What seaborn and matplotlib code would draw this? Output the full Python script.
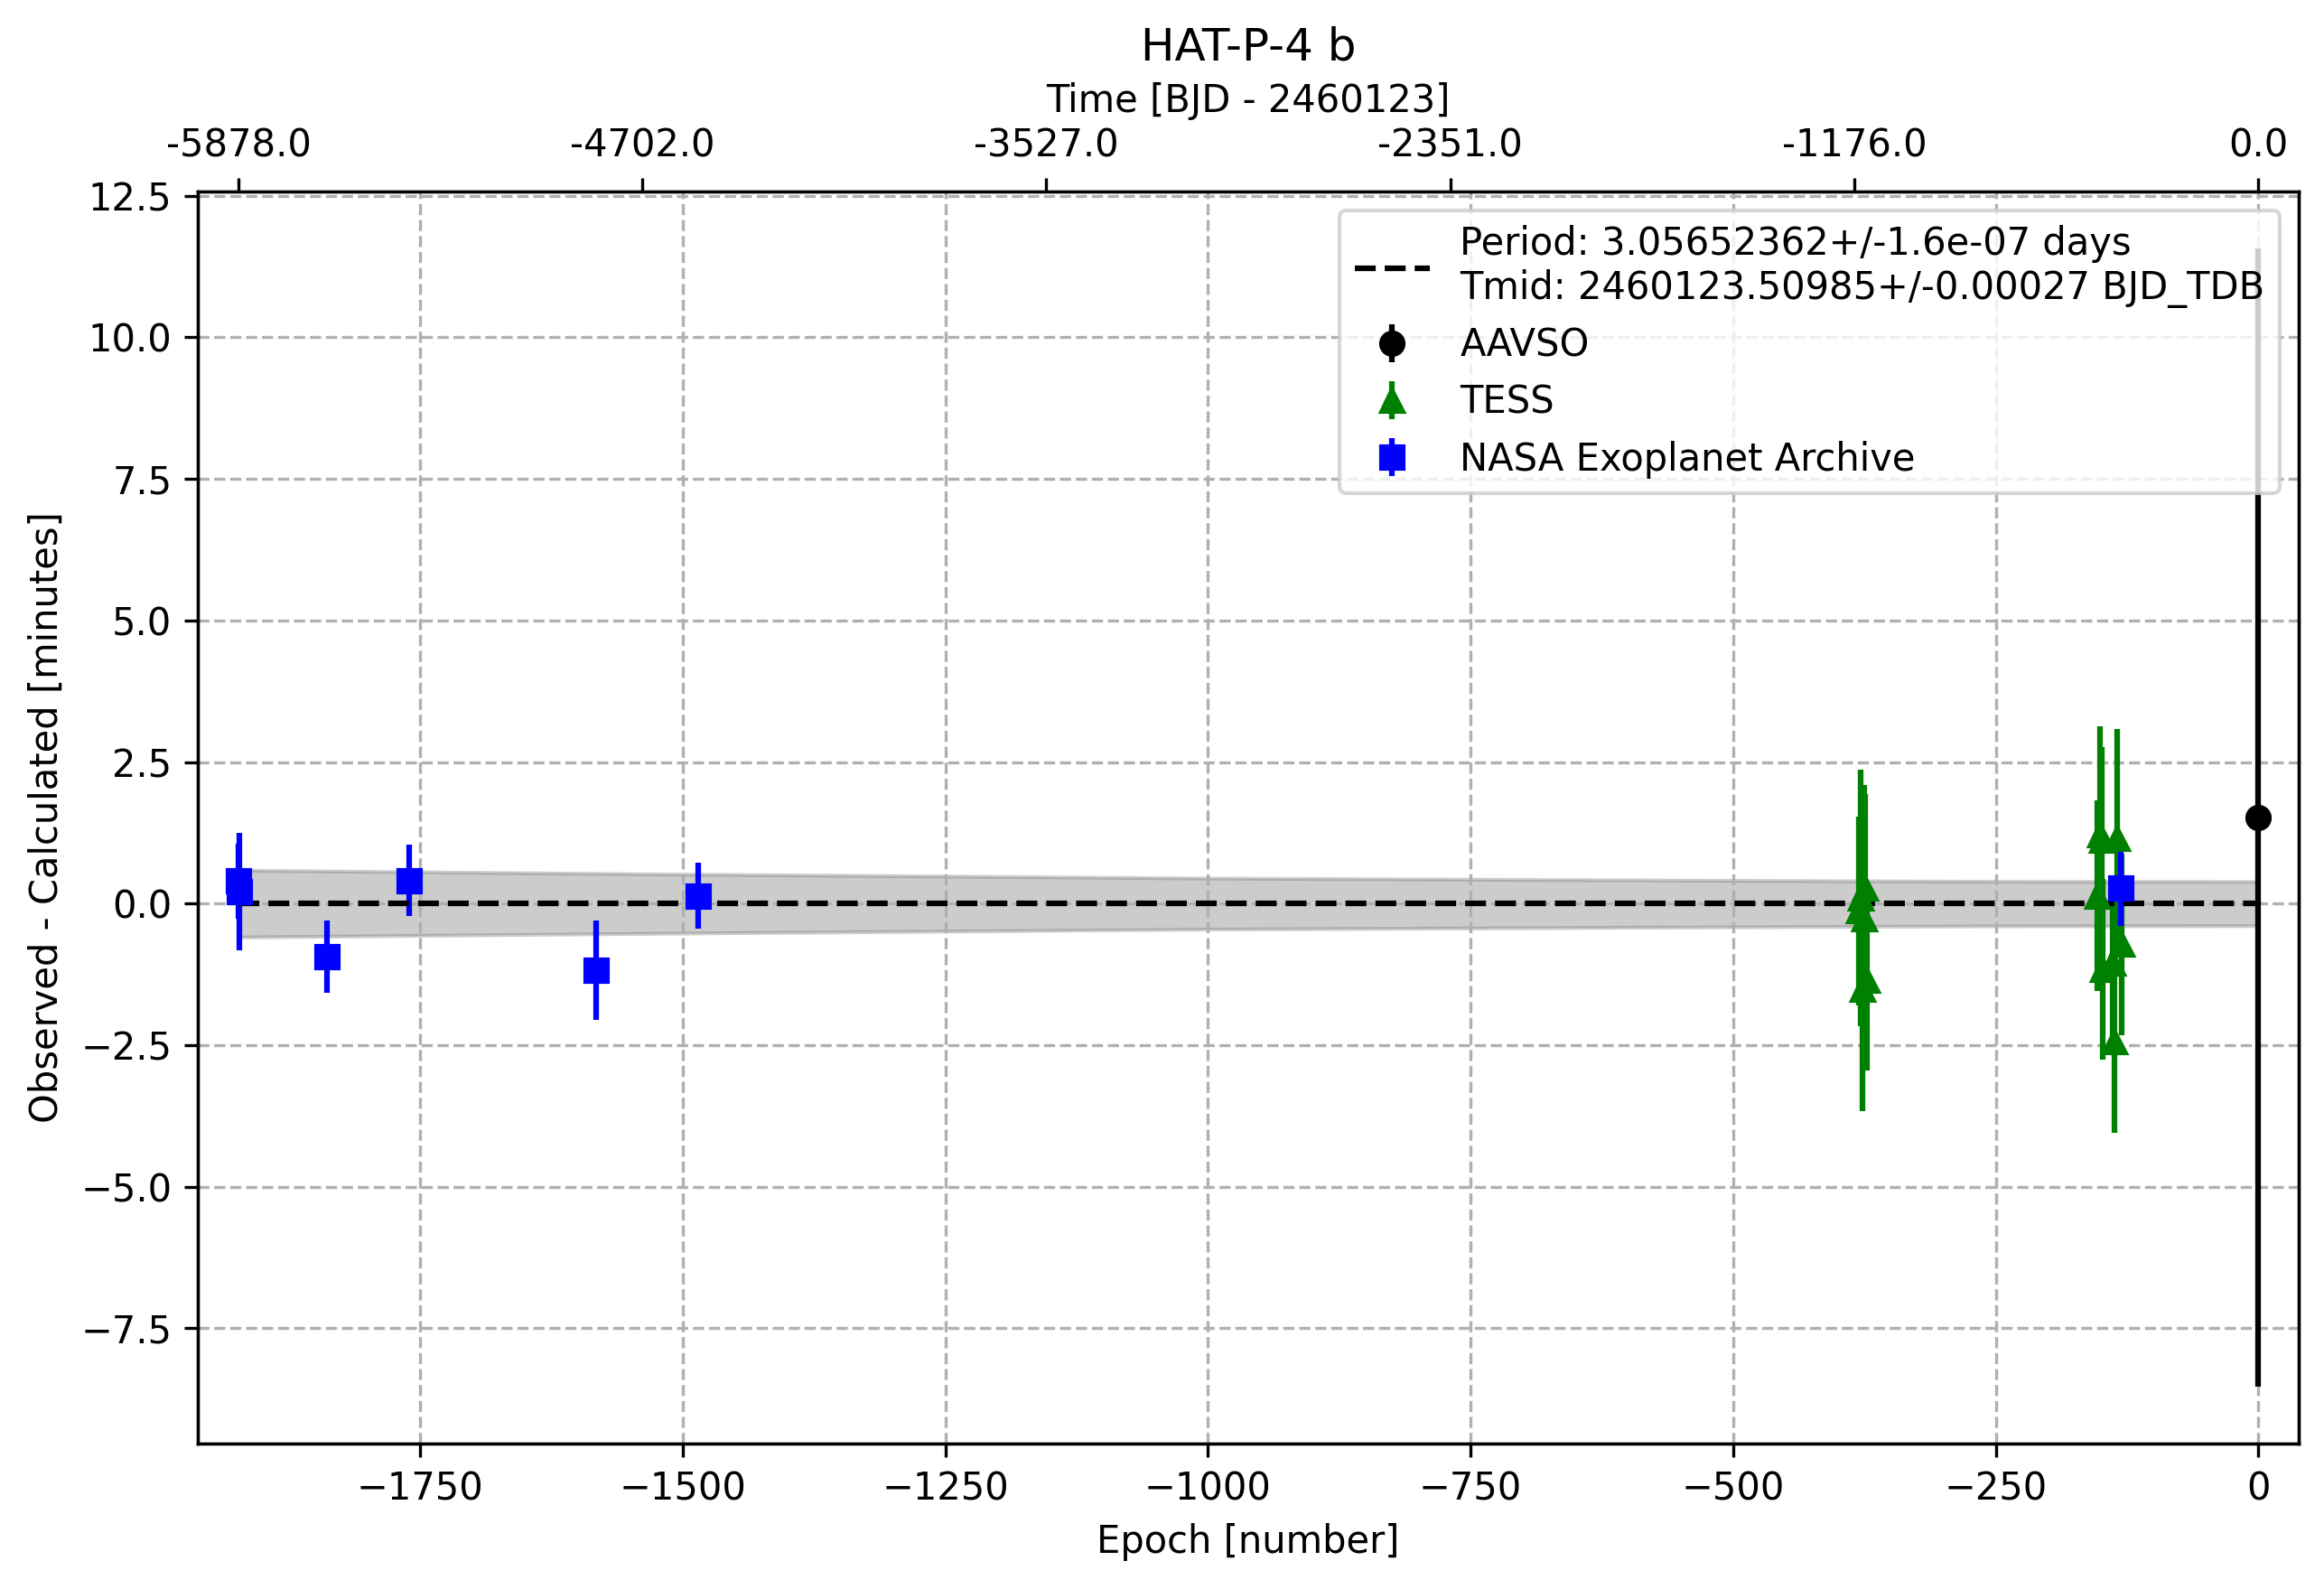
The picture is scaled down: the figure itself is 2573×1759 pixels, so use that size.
import matplotlib
matplotlib.use("Agg")
import matplotlib.pyplot as plt
import seaborn as sns
import numpy as np

# Ephemeris (from the legend)
PERIOD = 3.05652362
PERIOD_ERR = 1.6e-07
TMID = 2460123.50985
TMID_ERR = 0.00027

# AAVSO
aavso_epoch = [0]
aavso_oc = [1.52]
aavso_err = [10.05]

# TESS
tess_epoch = [-380, -379, -377, -375, -374, -373,
              -153, -151, -149, -148, -139, -137, -134, -130]
tess_oc = [-0.13, 0.10, -1.51, -0.27, 0.27, -1.35,
           0.14, 1.22, 1.12, -1.16, -1.05, -2.44, 1.15, -0.72]
tess_err = [1.67, 2.26, 2.15, 2.37, 1.67, 1.59,
            1.68, 1.91, 1.65, 1.60, 1.50, 1.60, 1.93, 1.60]

# NASA Exoplanet Archive
nasa_epoch = [-1923, -1922, -1839, -1761, -1583, -1485, -131]
nasa_oc = [0.40, 0.21, -0.94, 0.41, -1.18, 0.14, 0.27]
nasa_err = [0.66, 1.04, 0.64, 0.63, 0.88, 0.58, 0.67]

# ephemeris uncertainty band (minutes), read at a few epochs
band_epoch = [-1923, -1750, -1500, -1250, -1000, -500, -250, 0]
band_half = [0.59, 0.56, 0.52, 0.485, 0.45, 0.41, 0.393, 0.39]

# top axis labels [days]
top_days = [-5878.0, -4702.0, -3527.0, -2351.0, -1176.0, 0.0]

fig = plt.figure(figsize=(2573 / 300, 1759 / 300), dpi=300)
ax = fig.add_axes([0.0853, 0.0915, 0.9038, 0.788])

band_half = np.array(band_half)
ax.fill_between(band_epoch, -band_half, band_half, color='gray', alpha=0.4)

ax.errorbar(aavso_epoch, aavso_oc, yerr=aavso_err, fmt='o', color='black', label='AAVSO')
ax.errorbar(tess_epoch, tess_oc, yerr=tess_err, fmt='^', color='green', label='TESS')
ax.errorbar(nasa_epoch, nasa_oc, yerr=nasa_err, fmt='s', color='blue',
            label='NASA Exoplanet Archive')

label = (f"Period: {PERIOD}+/-{PERIOD_ERR} days\n"
         f"Tmid: {TMID}+/-{TMID_ERR} BJD_TDB")
sns.lineplot(x=[band_epoch[0], band_epoch[-1]], y=[0, 0], ax=ax, color='black',
             linestyle='--', linewidth=1.5, label=label)

ax.margins(x=0.02)
ax.set_xlabel('Epoch [number]')
ax.set_ylabel('Observed - Calculated [minutes]')
ax.grid(True, linestyle='--')
ax.legend(loc='upper right')

# second axis with time
ax2 = ax.twiny()
ax2.set_xlim(ax.get_xlim())
ax2.set_xticks(np.array(top_days) / PERIOD)
ax2.set_xticklabels([f"{d:.1f}" for d in top_days])
ax2.set_xlabel('Time [BJD - 2460123]')

ax.set_title('HAT-P-4 b')

fig.savefig('out.png', dpi=300)
